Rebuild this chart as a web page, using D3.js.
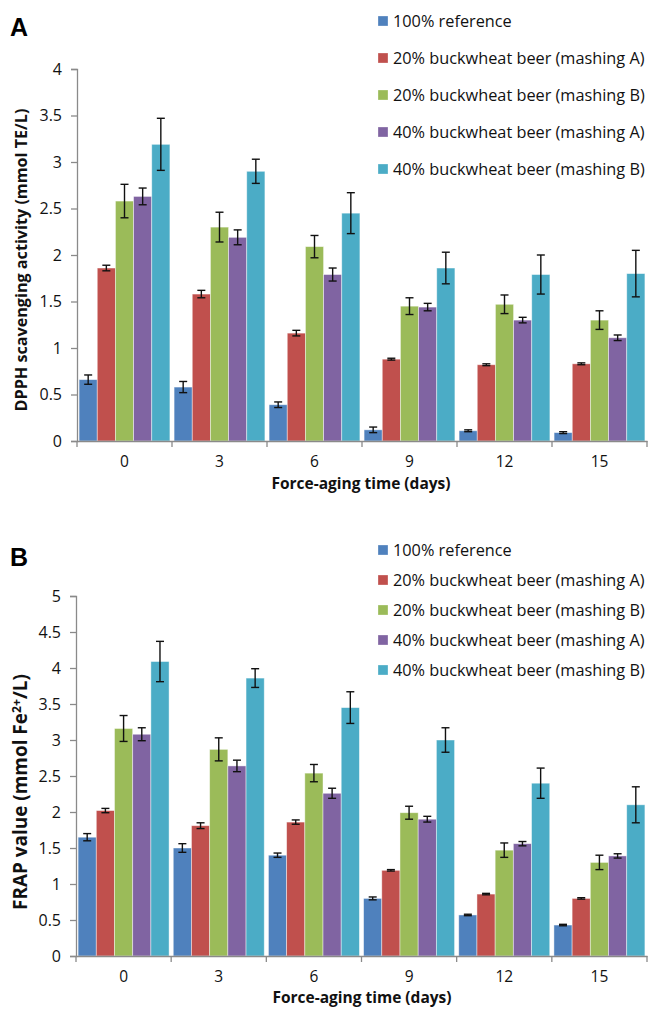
<!DOCTYPE html>
<html><head><meta charset="utf-8">
<script src="https://cdn.jsdelivr.net/npm/d3@7"></script>
<style>body{margin:0;background:#fff;} svg{display:block;font-family:"Open Sans",sans-serif;}</style>
</head><body>
<svg id="c" width="648" height="1010"></svg>
<script>
const days = ["0","3","6","9","12","15"];
const seriesNames = ["100% reference","20% buckwheat beer (mashing A)","20% buckwheat beer (mashing B)","40% buckwheat beer (mashing A)","40% buckwheat beer (mashing B)"];
const colors = ["#4F81BD","#C0504D","#9BBB59","#8064A2","#4BACC6"];
// Panel A: DPPH
const dpphRef = [0.66,0.58,0.39,0.12,0.11,0.09];
const dpph20A = [1.86,1.58,1.16,0.88,0.82,0.83];
const dpph20B = [2.58,2.30,2.09,1.45,1.47,1.30];
const dpph40A = [2.63,2.19,1.79,1.44,1.30,1.11];
const dpph40B = [3.19,2.90,2.45,1.86,1.79,1.80];
const dpphRefErr = [0.05,0.06,0.03,0.03,0.01,0.01];
const dpph20AErr = [0.03,0.04,0.03,0.01,0.01,0.01];
const dpph20BErr = [0.18,0.16,0.12,0.09,0.10,0.10];
const dpph40AErr = [0.09,0.08,0.07,0.04,0.03,0.03];
const dpph40BErr = [0.28,0.13,0.22,0.17,0.21,0.25];
const dpphTicks = [0,0.5,1,1.5,2,2.5,3,3.5,4];
// Panel B: FRAP
const frapRef = [1.65,1.50,1.40,0.80,0.57,0.43];
const frap20A = [2.02,1.81,1.86,1.19,0.86,0.80];
const frap20B = [3.16,2.87,2.54,1.99,1.47,1.30];
const frap40A = [3.08,2.64,2.26,1.90,1.56,1.39];
const frap40B = [4.09,3.86,3.45,3.00,2.40,2.10];
const frapRefErr = [0.05,0.06,0.03,0.02,0.01,0.01];
const frap20AErr = [0.03,0.04,0.03,0.01,0.01,0.01];
const frap20BErr = [0.18,0.16,0.12,0.09,0.10,0.10];
const frap40AErr = [0.09,0.08,0.07,0.04,0.03,0.03];
const frap40BErr = [0.28,0.13,0.22,0.17,0.21,0.25];
const frapTicks = [0,0.5,1,1.5,2,2.5,3,3.5,4,4.5,5];

const svg = d3.select("#c");

// scale a text's font so that its rendered length matches a target length
function fitText(sel, base, target){
  sel.attr("font-size", base);
  const len = sel.node().getComputedTextLength();
  if (len > 0) sel.attr("font-size", base * target / len);
}

function panel(cfg){
  const g = svg.append("g");
  const x = d3.scaleBand().domain(days).range([cfg.x0, cfg.x1]).paddingInner(0).paddingOuter(0);
  const xi = d3.scaleBand().domain(d3.range(5)).range([0, x.bandwidth()]).paddingOuter(0.115).paddingInner(0);
  const y = d3.scaleLinear().domain([0, cfg.ymax]).range([cfg.y0, cfg.ytop]);

  // bars
  cfg.values.forEach((vals, s) => {
    const gs = g.append("g");
    gs.selectAll("rect").data(vals).join("rect")
      .attr("x", (d,i) => x(days[i]) + xi(s))
      .attr("y", d => y(d))
      .attr("width", xi.bandwidth())
      .attr("height", d => y(0) - y(d))
      .attr("fill", colors[s])
      .attr("stroke", "rgba(255,255,255,0.55)")
      .attr("stroke-width", 0.8);
  });
  // error bars
  cfg.values.forEach((vals, s) => {
    const errs = cfg.errors[s];
    const ge = g.append("g").attr("stroke","#111").attr("stroke-width",1.4);
    vals.forEach((v,i) => {
      const cx = x(days[i]) + xi(s) + xi.bandwidth()/2;
      const yt = y(v + errs[i]), yb = y(v - errs[i]);
      ge.append("line").attr("x1",cx).attr("x2",cx).attr("y1",yt).attr("y2",yb);
      ge.append("line").attr("x1",cx-4).attr("x2",cx+4).attr("y1",yt).attr("y2",yt);
      ge.append("line").attr("x1",cx-4).attr("x2",cx+4).attr("y1",yb).attr("y2",yb);
    });
  });

  // y axis
  const ya = g.append("g").attr("transform",`translate(${cfg.x0},0)`)
    .call(d3.axisLeft(y).tickValues(cfg.ticks).tickSize(6).tickPadding(9).tickFormat(d3.format("")));
  ya.select(".domain").attr("stroke","#8a8a8a").attr("stroke-width",1.3);
  ya.selectAll(".tick line").attr("stroke","#8a8a8a").attr("stroke-width",1.3);
  ya.selectAll("text").attr("font-size",16).attr("fill","#111").attr("font-family","Open Sans, sans-serif");

  // x axis
  const xa = g.append("g").attr("transform",`translate(0,${cfg.y0})`)
    .call(d3.axisBottom(x).tickSize(0).tickPadding(15));
  xa.select(".domain").attr("stroke","#8a8a8a").attr("stroke-width",1.3);
  xa.selectAll("text").attr("font-size",15.5).attr("fill","#111").attr("font-family","Open Sans, sans-serif");
  // category boundary ticks
  const bounds = days.map(d => x(d)).concat([cfg.x1]);
  xa.selectAll(".bt").data(bounds).join("line").attr("class","bt")
    .attr("x1",d=>d).attr("x2",d=>d).attr("y1",0).attr("y2",6)
    .attr("stroke","#8a8a8a").attr("stroke-width",1.3);

  // x title
  const xt = g.append("text").attr("x",cfg.xTitleX).attr("y",cfg.xTitleY)
    .attr("text-anchor","middle").attr("font-weight","bold").attr("fill","#111")
    .text("Force-aging time (days)");
  fitText(xt, 15.5, 182);
  if (+xt.attr("font-size") > 15.5) xt.attr("font-size", 15.5);
  // y title
  const yt = g.append("text").attr("transform",`translate(${cfg.yTitleX},${cfg.yTitleY}) rotate(-90)`)
    .attr("text-anchor","middle").attr("font-weight","bold").attr("fill","#111");
  cfg.yTitle(yt);
  fitText(yt, 15, cfg.yTitleLen);

  // panel letter
  g.append("text").attr("x",10).attr("y",cfg.letterY).attr("font-family","Liberation Sans, Arial, sans-serif")
    .attr("font-weight","bold").attr("font-size",25).attr("fill","#000").text(cfg.letter);

  // legend
  const lg = g.append("g");
  seriesNames.forEach((n,i) => {
    const yy = cfg.legY + i*cfg.legStep;
    lg.append("rect").attr("x",378).attr("y",yy-5).attr("width",10).attr("height",10).attr("fill",colors[i])
      .attr("stroke","rgba(255,255,255,0.5)").attr("stroke-width",0.6);
    lg.append("text").attr("x",393).attr("y",yy).attr("dy","0.35em").attr("font-size",16.3).attr("fill","#111").text(n);
  });
}

panel({
  x0:77, x1:647, y0:441, ytop:69, ymax:4, ticks:dpphTicks,
  values:[dpphRef,dpph20A,dpph20B,dpph40A,dpph40B],
  errors:[dpphRefErr,dpph20AErr,dpph20BErr,dpph40AErr,dpph40BErr],
  xTitleX:361, xTitleY:489, yTitleX:27, yTitleY:260, yTitleLen:303,
  yTitle: t => t.text("DPPH scavenging activity (mmol TE/L)"),
  letter:"A", letterY:36, legY:21, legStep:37
});
panel({
  x0:76, x1:647, y0:956, ytop:596, ymax:5, ticks:frapTicks,
  values:[frapRef,frap20A,frap20B,frap40A,frap40B],
  errors:[frapRefErr,frap20AErr,frap20BErr,frap40AErr,frap40BErr],
  xTitleX:362, xTitleY:1003, yTitleX:27, yTitleY:792, yTitleLen:236,
  yTitle: t => { t.append("tspan").text("FRAP value (mmol Fe");
                 t.append("tspan").attr("font-size","0.65em").attr("dy","-0.45em").text("2+");
                 t.append("tspan").attr("dy","0.3em").text("/L)"); },
  letter:"B", letterY:566, legY:550, legStep:30
});
</script>
</body></html>
